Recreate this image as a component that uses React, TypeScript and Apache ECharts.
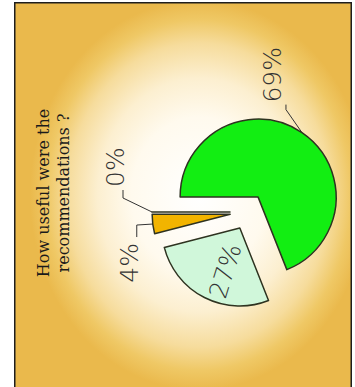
import React, { useEffect, useRef } from 'react';
import * as echarts from 'echarts';

// Data
const categories = ['No answer', 'Useful', 'Somewhat useful', 'Not useful'];
const values = [0, 69, 27, 4];
const titleLines = ['How useful were the', 'recommendations ?'];
const sliceColors = ['#4a3f1c', '#12EE12', '#D0F7DA', '#F2B400'];

const W = 390; // unrotated width (becomes screen height)
const H = 338; // unrotated height (becomes screen width)
const CENTER = [180, 234];
const RADIUS = 78;
const EXPLODE = 18;
const START = 90;

// label placement relative to the slice's outer edge point (unrotated frame)
const labelPlace: Record<number, { align: string; ox: number; oy: number; l: number[][] }> = {
  0: { align: 'left', ox: 25, oy: -37, l: [[14, -29], [22, -29]] },
  1: { align: 'left', ox: 30, oy: -29, l: [[23, -16], [28, -16]] },
  3: { align: 'right', ox: -19, oy: -23, l: [[-1, -16], [-13, -16]] },
};

export default function App() {
  const ref = useRef<HTMLDivElement>(null);

  useEffect(() => {
    const chart = echarts.init(ref.current!, null, { renderer: 'svg' });
    const total = values.reduce((a, b) => a + b, 0);
    let cum = 0;
    const mids = values.map((v) => {
      const m = START - (360 * (cum + v / 2)) / total;
      cum += v;
      return (m * Math.PI) / 180;
    });

    const series = values.map((_, k) => ({
      type: 'pie',
      silent: true,
      center: [
        CENTER[0] + EXPLODE * Math.cos(mids[k]),
        CENTER[1] - EXPLODE * Math.sin(mids[k]),
      ],
      radius: RADIUS,
      startAngle: START,
      clockwise: true,
      avoidLabelOverlap: false,
      percentPrecision: 0,
      emphasis: { disabled: true },
      label: {
        show: true,
        position: k === 2 ? 'inside' : 'outside',
        rotate: k === 2 ? -17 : 0,
        formatter: '{d}%',
        fontFamily: 'DejaVu Sans',
        fontSize: 25,
        fontWeight: 300,
        color: '#333',
      },
      labelLine: {
        show: k !== 2,
        length: 12,
        length2: 8,
        lineStyle: { color: '#333', width: 1 },
      },
      labelLayout: (params: any) => {
        if (params.dataIndex === 2) return { dx: -4, dy: 6 };
        const cfg = labelPlace[params.dataIndex];
        const pts = params.labelLinePoints;
        if (!cfg || !pts) return {};
        const p0 = pts[0];
        return {
          x: p0[0] + cfg.ox,
          y: p0[1] + cfg.oy,
          align: cfg.align,
          verticalAlign: 'middle',
          labelLinePoints: [
            [p0[0], p0[1]],
            [p0[0] + cfg.l[0][0], p0[1] + cfg.l[0][1]],
            [p0[0] + cfg.l[1][0], p0[1] + cfg.l[1][1]],
          ],
        };
      },
      data: categories.map((name, i) =>
        i === k
          ? {
              name,
              value: values[i],
              itemStyle: { color: sliceColors[i], borderColor: '#2e3320', borderWidth: 1.5 },
            }
          : {
              name,
              value: values[i],
              itemStyle: { color: 'rgba(0,0,0,0)', borderWidth: 0 },
              label: { show: false },
              labelLine: { show: false },
            }
      ),
    }));

    chart.setOption({
      animation: false,
      title: {
        text: titleLines.join('\n'),
        left: 199,
        top: 19,
        padding: 0,
        textAlign: 'center',
        textStyle: {
          fontFamily: 'DejaVu Serif',
          fontSize: 16,
          lineHeight: 20,
          fontWeight: 'normal',
          color: '#1a1a1a',
        },
      },
      graphic: [
        {
          type: 'rect',
          z: -10,
          shape: { x: 0, y: 0, width: W, height: H },
          style: {
            fill: new echarts.graphic.RadialGradient(0.505, 0.547, 0.5, [
              { offset: 0, color: '#FFFFFF' },
              { offset: 0.4, color: '#FFFAEE' },
              { offset: 0.6, color: '#FCEFD0' },
              { offset: 0.78, color: '#F6DC9C' },
              { offset: 0.9, color: '#EFC865' },
              { offset: 1, color: '#EAB94C' },
            ]),
          },
          silent: true,
        },
        {
          type: 'rect',
          z: 100,
          shape: { x: 0.75, y: 0.75, width: W - 1.5, height: H - 1.5 },
          style: { fill: 'none', stroke: '#1e1e1e', lineWidth: 1.5 },
          silent: true,
        },
      ],
      series,
    });
    return () => chart.dispose();
  }, []);

  return (
    <div
      style={{
        position: 'fixed',
        left: 0,
        top: 0,
        width: 355,
        height: 387,
        overflow: 'hidden',
        background: '#fff',
      }}
    >
      <div
        ref={ref}
        style={{
          position: 'absolute',
          left: 0,
          top: 0,
          width: W,
          height: H,
          transformOrigin: '0 0',
          transform: 'translate(14px, 392px) rotate(-90deg)',
        }}
      />
    </div>
  );
}
